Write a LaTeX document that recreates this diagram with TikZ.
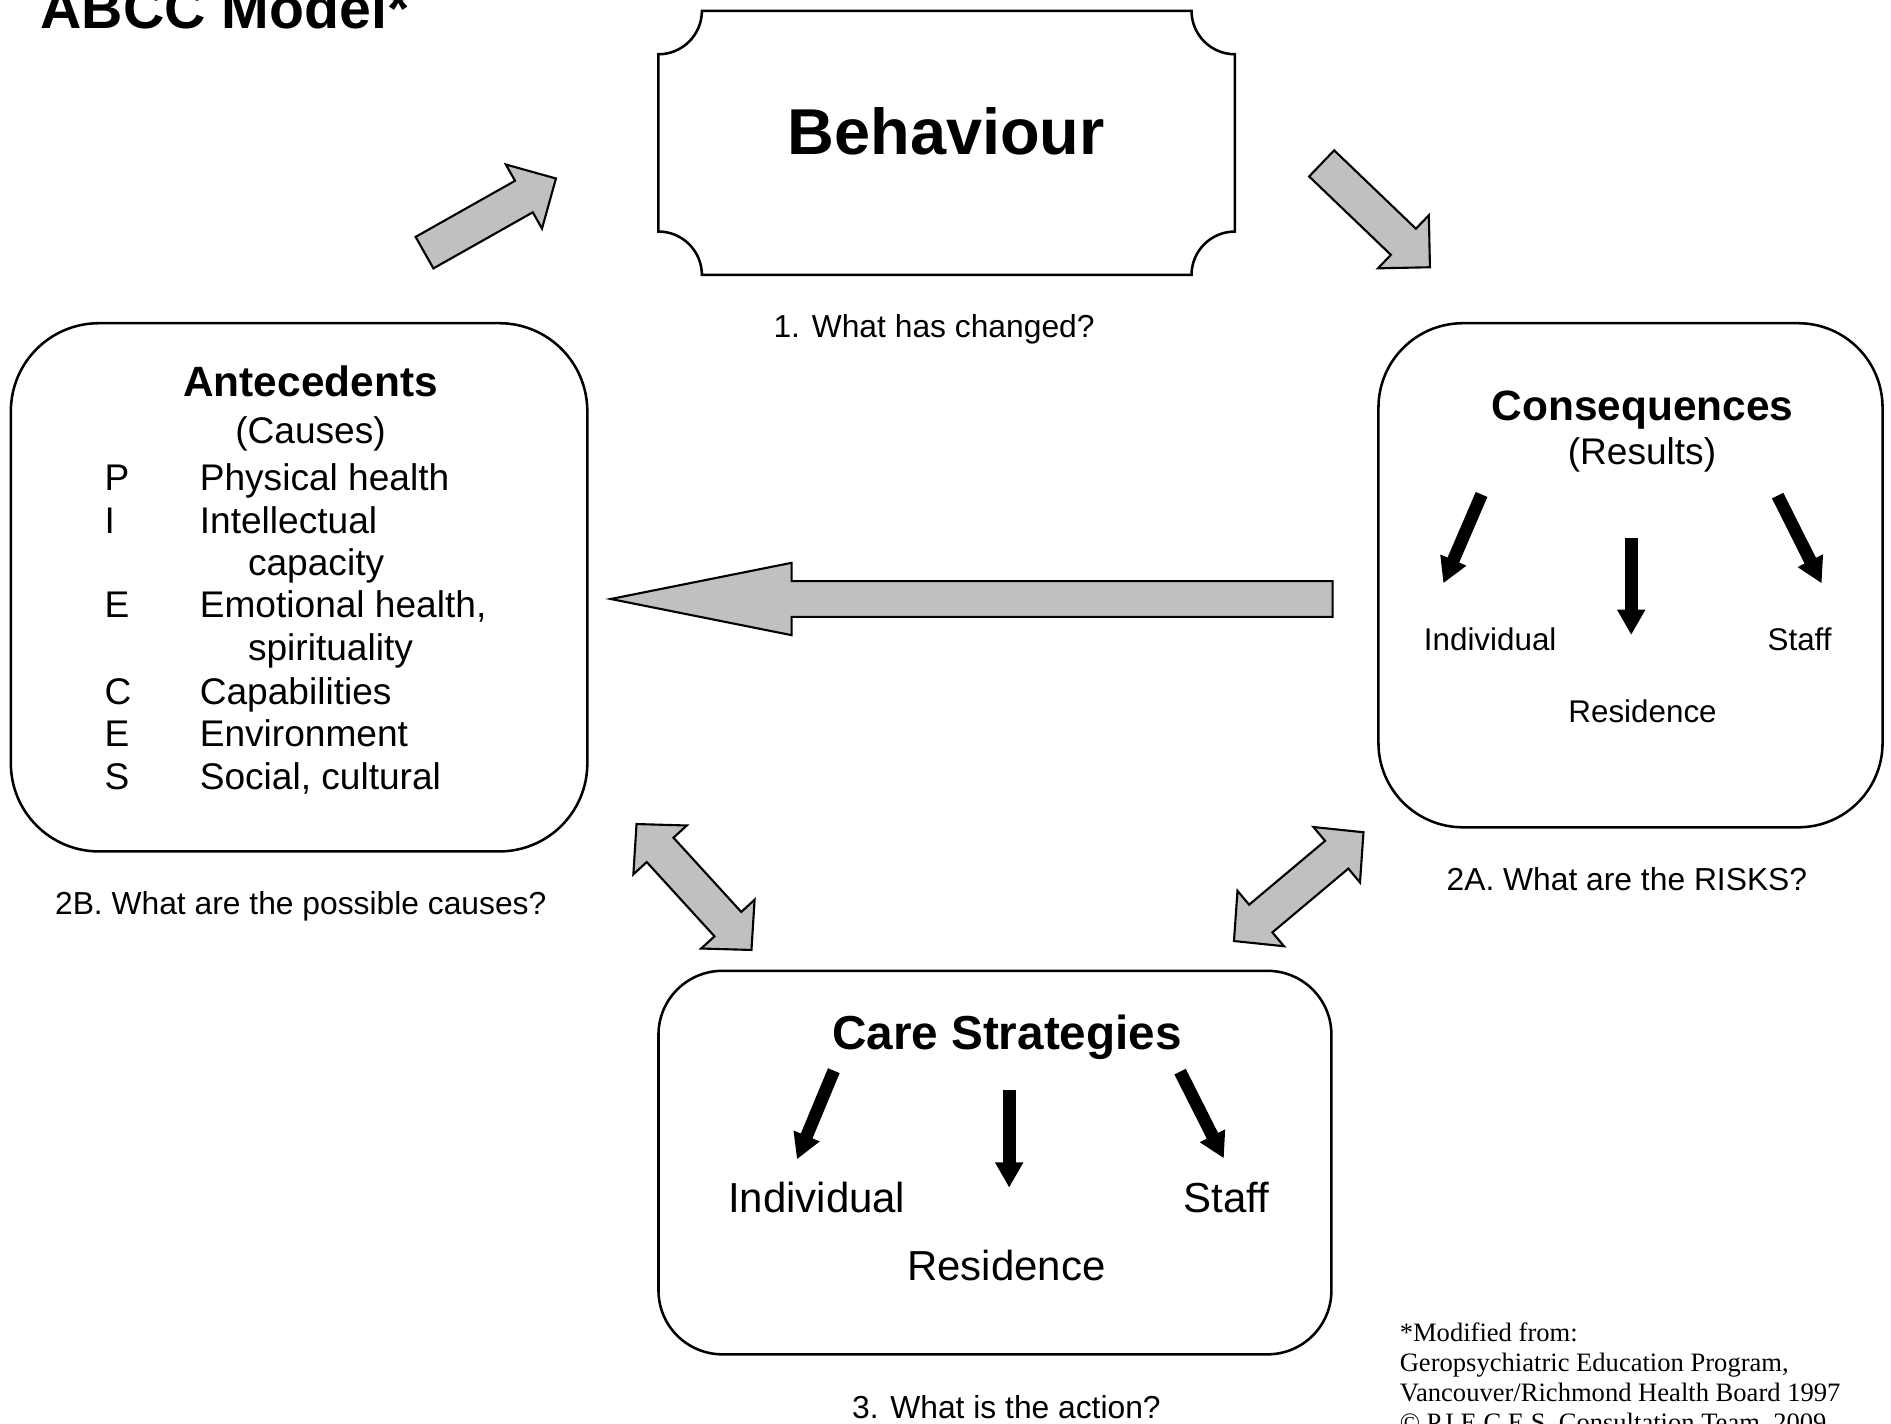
\documentclass[tikz,border=0pt]{standalone}
\usepackage{fontspec}
\setmainfont{Liberation Sans}
\newfontfamily\notefont{Liberation Serif}
\usetikzlibrary{calc,arrows.meta}
\definecolor{arrowgray}{RGB}{192,192,192}

% block arrow: tail, tip, half shaft, half head, head length
\newcommand{\fatarrow}[5]{%
	\coordinate (fa-b) at ($(#2)!#5!(#1)$);
	\draw[grayarrow] ($(#1)!#3!90:(#2)$) -- ($(fa-b)!#3!90:(#2)$) -- ($(fa-b)!#4!90:(#2)$) -- (#2)
		-- ($(fa-b)!#4!-90:(#2)$) -- ($(fa-b)!#3!-90:(#2)$) -- ($(#1)!#3!-90:(#2)$) -- cycle;
}
% block arrow with two heads: tip, tip, half shaft, half head, head length
\newcommand{\fatdarrow}[5]{%
	\coordinate (fa-a) at ($(#1)!#5!(#2)$);
	\coordinate (fa-b) at ($(#2)!#5!(#1)$);
	\draw[grayarrow] (#1) -- ($(fa-a)!#4!90:(#2)$) -- ($(fa-a)!#3!90:(#2)$) -- ($(fa-b)!#3!-90:(#1)$)
		-- ($(fa-b)!#4!-90:(#1)$) -- (#2) -- ($(fa-b)!#4!90:(#1)$) -- ($(fa-b)!#3!90:(#1)$)
		-- ($(fa-a)!#3!-90:(#2)$) -- ($(fa-a)!#4!-90:(#2)$) -- cycle;
}

\begin{document}
\begin{tikzpicture}[x=0.1mm, y=-0.1mm,
	txt/.style={inner sep=0pt, anchor=base},
	qtext/.style={txt, font=\fontsize{7.5}{9}\selectfont},
	headtext/.style={txt, font=\bfseries\fontsize{10}{12}\selectfont},
	listtext/.style={txt, anchor=base west, font=\fontsize{8.75}{10}\selectfont},
	subtext/.style={txt, font=\fontsize{7.4}{9}\selectfont},
	caretext/.style={txt, font=\fontsize{9.9}{12}\selectfont},
	notetext/.style={txt, anchor=base west, font=\notefont\fontsize{6.27}{7.2}\selectfont},
	roundbox/.style={draw, line width=0.6pt, rounded corners=#1, inner sep=0pt},
	grayarrow/.style={draw=black, fill=arrowgray, line width=0.5pt},
	blackarrow/.style={line width=1.05mm, -{Triangle[length=2.1mm, width=2.2mm]}}]
	\useasboundingbox (0,0) rectangle (1568,1180);
	\clip (0,0) rectangle (1568,1180);

	\node[txt, anchor=base west, font=\bfseries\fontsize{13.5}{16}\selectfont] (title) at (33,24) {ABCC Model*};

	% Behaviour
	\node[txt, font=\bfseries\fontsize{15.3}{18}\selectfont] (behav) at (784.5,128) {Behaviour};
	\draw[line width=0.6pt] (582,9) -- (988,9) arc[start angle=180, end angle=270, radius=3.6mm]
		-- (1024,192) arc[start angle=90, end angle=180, radius=3.6mm]
		-- (582,228) arc[start angle=0, end angle=90, radius=3.6mm]
		-- (546,45) arc[start angle=270, end angle=360, radius=3.6mm] -- cycle;
	\node[qtext] (q1) at (774.5,280) {1. What has changed?};

	% Antecedents
	\node[roundbox=7.3mm, minimum width=47.8mm, minimum height=43.8mm] (antebox) at (248,487) {};
	\node[headtext] (antehead) at (257.5,329) {Antecedents};
	\node[listtext, anchor=base] (causes) at (257.5,368) {(Causes)};
	\node[listtext] (lp) at (86,407) {P};
	\node[listtext] (tp) at (165,407) {Physical health};
	\node[listtext] (li) at (86,442) {I};
	\node[listtext] (ti) at (165,442) {Intellectual};
	\node[listtext] (ti2) at (205,477) {capacity};
	\node[listtext] (le) at (86,512) {E};
	\node[listtext] (te) at (165,512) {Emotional health,};
	\node[listtext] (te2) at (205,548) {spirituality};
	\node[listtext] (lc) at (86,584) {C};
	\node[listtext] (tc) at (165,584) {Capabilities};
	\node[listtext] (lv) at (86,619) {E};
	\node[listtext] (tv) at (165,619) {Environment};
	\node[listtext] (ls) at (86,655) {S};
	\node[listtext] (ts) at (165,655) {Social, cultural};
	\node[qtext, anchor=base west] (q2b) at (45,758) {2B. What are the possible causes?};

	% Consequences
	\node[roundbox=7mm, minimum width=41.8mm, minimum height=41.8mm] (consbox) at (1352,477) {};
	\node[headtext] (conshead) at (1362,349) {Consequences};
	\node[listtext, anchor=base] (results) at (1361.5,385) {(Results)};
	\node[subtext, anchor=base west] (consind) at (1180,539) {Individual};
	\node[subtext, anchor=base west] (consstaff) at (1465,539) {Staff};
	\node[subtext] (consres) at (1362,599) {Residence};
	\coordinate (ci1) at (1228.5,410); \coordinate (ci2) at (1196.8,483.7);
	\coordinate (cr1) at (1352.6,446.4); \coordinate (cr2) at (1352.6,526.5);
	\coordinate (cs1) at (1474,411); \coordinate (cs2) at (1510.5,483.7);
	\draw[blackarrow] (ci1) -- (ci2);
	\draw[blackarrow] (cr1) -- (cr2);
	\draw[blackarrow] (cs1) -- (cs2);
	\node[qtext] (q2a) at (1349,738) {2A. What are the RISKS?};

	% Care strategies
	\node[roundbox=5.3mm, minimum width=55.8mm, minimum height=31.8mm] (carebox) at (825,964) {};
	\node[txt, font=\bfseries\fontsize{11.25}{13}\selectfont] (carehead) at (835,870) {Care Strategies};
	\node[caretext, anchor=base west] (careind) at (603,1005.5) {Individual};
	\node[caretext, anchor=base west] (carestaff) at (981,1005.5) {Staff};
	\node[caretext] (careres) at (834.5,1062) {Residence};
	\coordinate (ki1) at (691.4,887.8); \coordinate (ki2) at (660.8,961.3);
	\coordinate (kr1) at (836.8,903.8); \coordinate (kr2) at (836.8,984.8);
	\coordinate (ks1) at (978.5,888.6); \coordinate (ks2) at (1014.8,960.5);
	\draw[blackarrow] (ki1) -- (ki2);
	\draw[blackarrow] (kr1) -- (kr2);
	\draw[blackarrow] (ks1) -- (ks2);
	\node[qtext] (q3) at (834.5,1176) {3. What is the action?};

	% gray arrows
	\coordinate (ab-t) at (352,209.5); \coordinate (ab-h) at (461,148);
	\fatarrow{ab-t}{ab-h}{1.5mm}{3.05mm}{3.05mm}
	\coordinate (bc-t) at (1095.9,135.5); \coordinate (bc-h) at (1185.7,221.6);
	\fatarrow{bc-t}{bc-h}{1.5mm}{3.05mm}{3.05mm}
	\coordinate (ca-t) at (1105,496.7); \coordinate (ca-h) at (506.4,496.7);
	\fatarrow{ca-t}{ca-h}{1.48mm}{3mm}{15mm}
	\coordinate (as-a) at (527.8,683.3); \coordinate (as-b) at (623.1,787.7);
	\fatdarrow{as-a}{as-b}{1.5mm}{3mm}{2.9mm}
	\coordinate (cs-a) at (1130.6,690.1); \coordinate (cs-b) at (1023.2,780.3);
	\fatdarrow{cs-a}{cs-b}{1.5mm}{3mm}{2.9mm}

	% note
	\node[notetext] (n1) at (1160,1112) {*Modified from:};
	\node[notetext] (n2) at (1160,1137) {Geropsychiatric Education Program,};
	\node[notetext] (n3) at (1160,1162) {Vancouver/Richmond Health Board 1997};
	\node[notetext] (n4) at (1160,1187) {\textcopyright\ P.I.E.C.E.S. Consultation Team, 2009};
\end{tikzpicture}
\end{document}
